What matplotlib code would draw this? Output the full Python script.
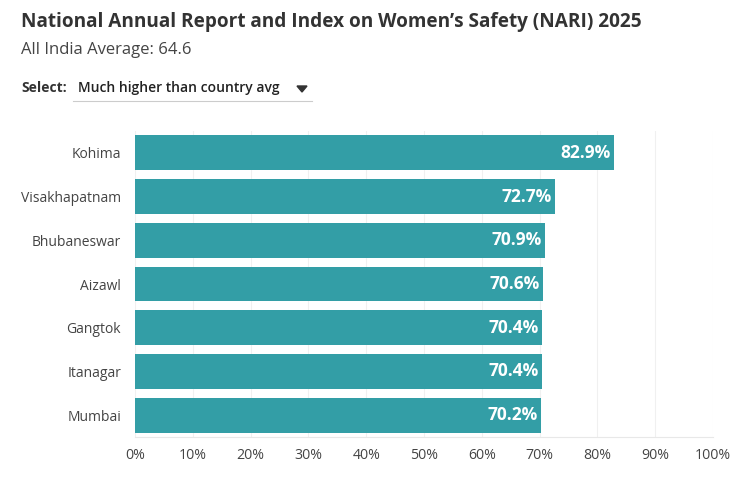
import matplotlib
matplotlib.use("Agg")
import matplotlib.pyplot as plt

# data
cities = ["Kohima", "Visakhapatnam", "Bhubaneswar", "Aizawl", "Gangtok", "Itanagar", "Mumbai"]
scores = [82.9, 72.7, 70.9, 70.6, 70.4, 70.4, 70.2]
x_ticks = [0, 10, 20, 30, 40, 50, 60, 70, 80, 90, 100]

title = "National Annual Report and Index on Women\u2019s Safety (NARI) 2025"
subtitle = "All India Average: 64.6"
select_label = "Select:"
select_value = "Much higher than country avg"

bar_color = "#339ea6"
text_gray = "#444444"

plt.rcParams['font.family'] = ['Open Sans', 'DejaVu Sans']

fig = plt.figure(figsize=(7.54, 4.8), dpi=100)
ax = fig.add_axes([135 / 754, 1 - 437 / 480, (713 - 135) / 754, 306 / 480])

ypos = list(range(len(cities)))
ax.barh(ypos, scores, height=0.8, color=bar_color, zorder=2)
ax.set_ylim(len(cities) - 0.5, -0.5)
ax.set_xlim(0, 100)

for y, v in zip(ypos, scores):
    ax.text(v - 0.6, y, f"{v}%", ha='right', va='center', color='white',
            fontsize=12.5, fontweight='bold', zorder=3)

ax.set_yticks(ypos)
ax.set_yticklabels(cities, fontsize=10, color=text_gray)
ax.set_xticks(x_ticks)
ax.set_xticklabels([f"{t}%" for t in x_ticks], fontsize=10.2, color=text_gray)
ax.tick_params(axis='both', length=0)
ax.tick_params(axis='y', pad=10)
ax.tick_params(axis='x', pad=8)
ax.grid(axis='x', color='#f0f0f0', linewidth=0.8, zorder=0)
for s in ['top', 'right', 'left']:
    ax.spines[s].set_visible(False)
ax.spines['bottom'].set_color('#e8e8e8')
ax.spines['bottom'].set_linewidth(0.8)

# header
fig.text(21 / 754, 1 - 22 / 480, title, fontsize=13.7, fontweight='bold', color='#333333',
         ha='left', va='center')
fig.text(21 / 754, 1 - 50 / 480, subtitle, fontsize=12, color='#444444', ha='left', va='center')
fig.text(21 / 754, 1 - 88 / 480, select_label, fontsize=10, fontweight='bold', color='#333333',
         ha='left', va='center')
fig.text(78 / 754, 1 - 88 / 480, select_value, fontsize=10, fontweight='semibold',
         color='#222222', ha='left', va='center')
fig.add_artist(plt.Line2D([73 / 754, 312 / 754], [1 - 101 / 480, 1 - 101 / 480],
                          color='#cccccc', linewidth=0.8))
fig.add_artist(plt.Polygon([[297 / 754, 1 - 86 / 480], [307 / 754, 1 - 86 / 480],
                            [302 / 754, 1 - 92 / 480]], closed=True, color='#333333'))

fig.savefig("out.png", dpi=100)
